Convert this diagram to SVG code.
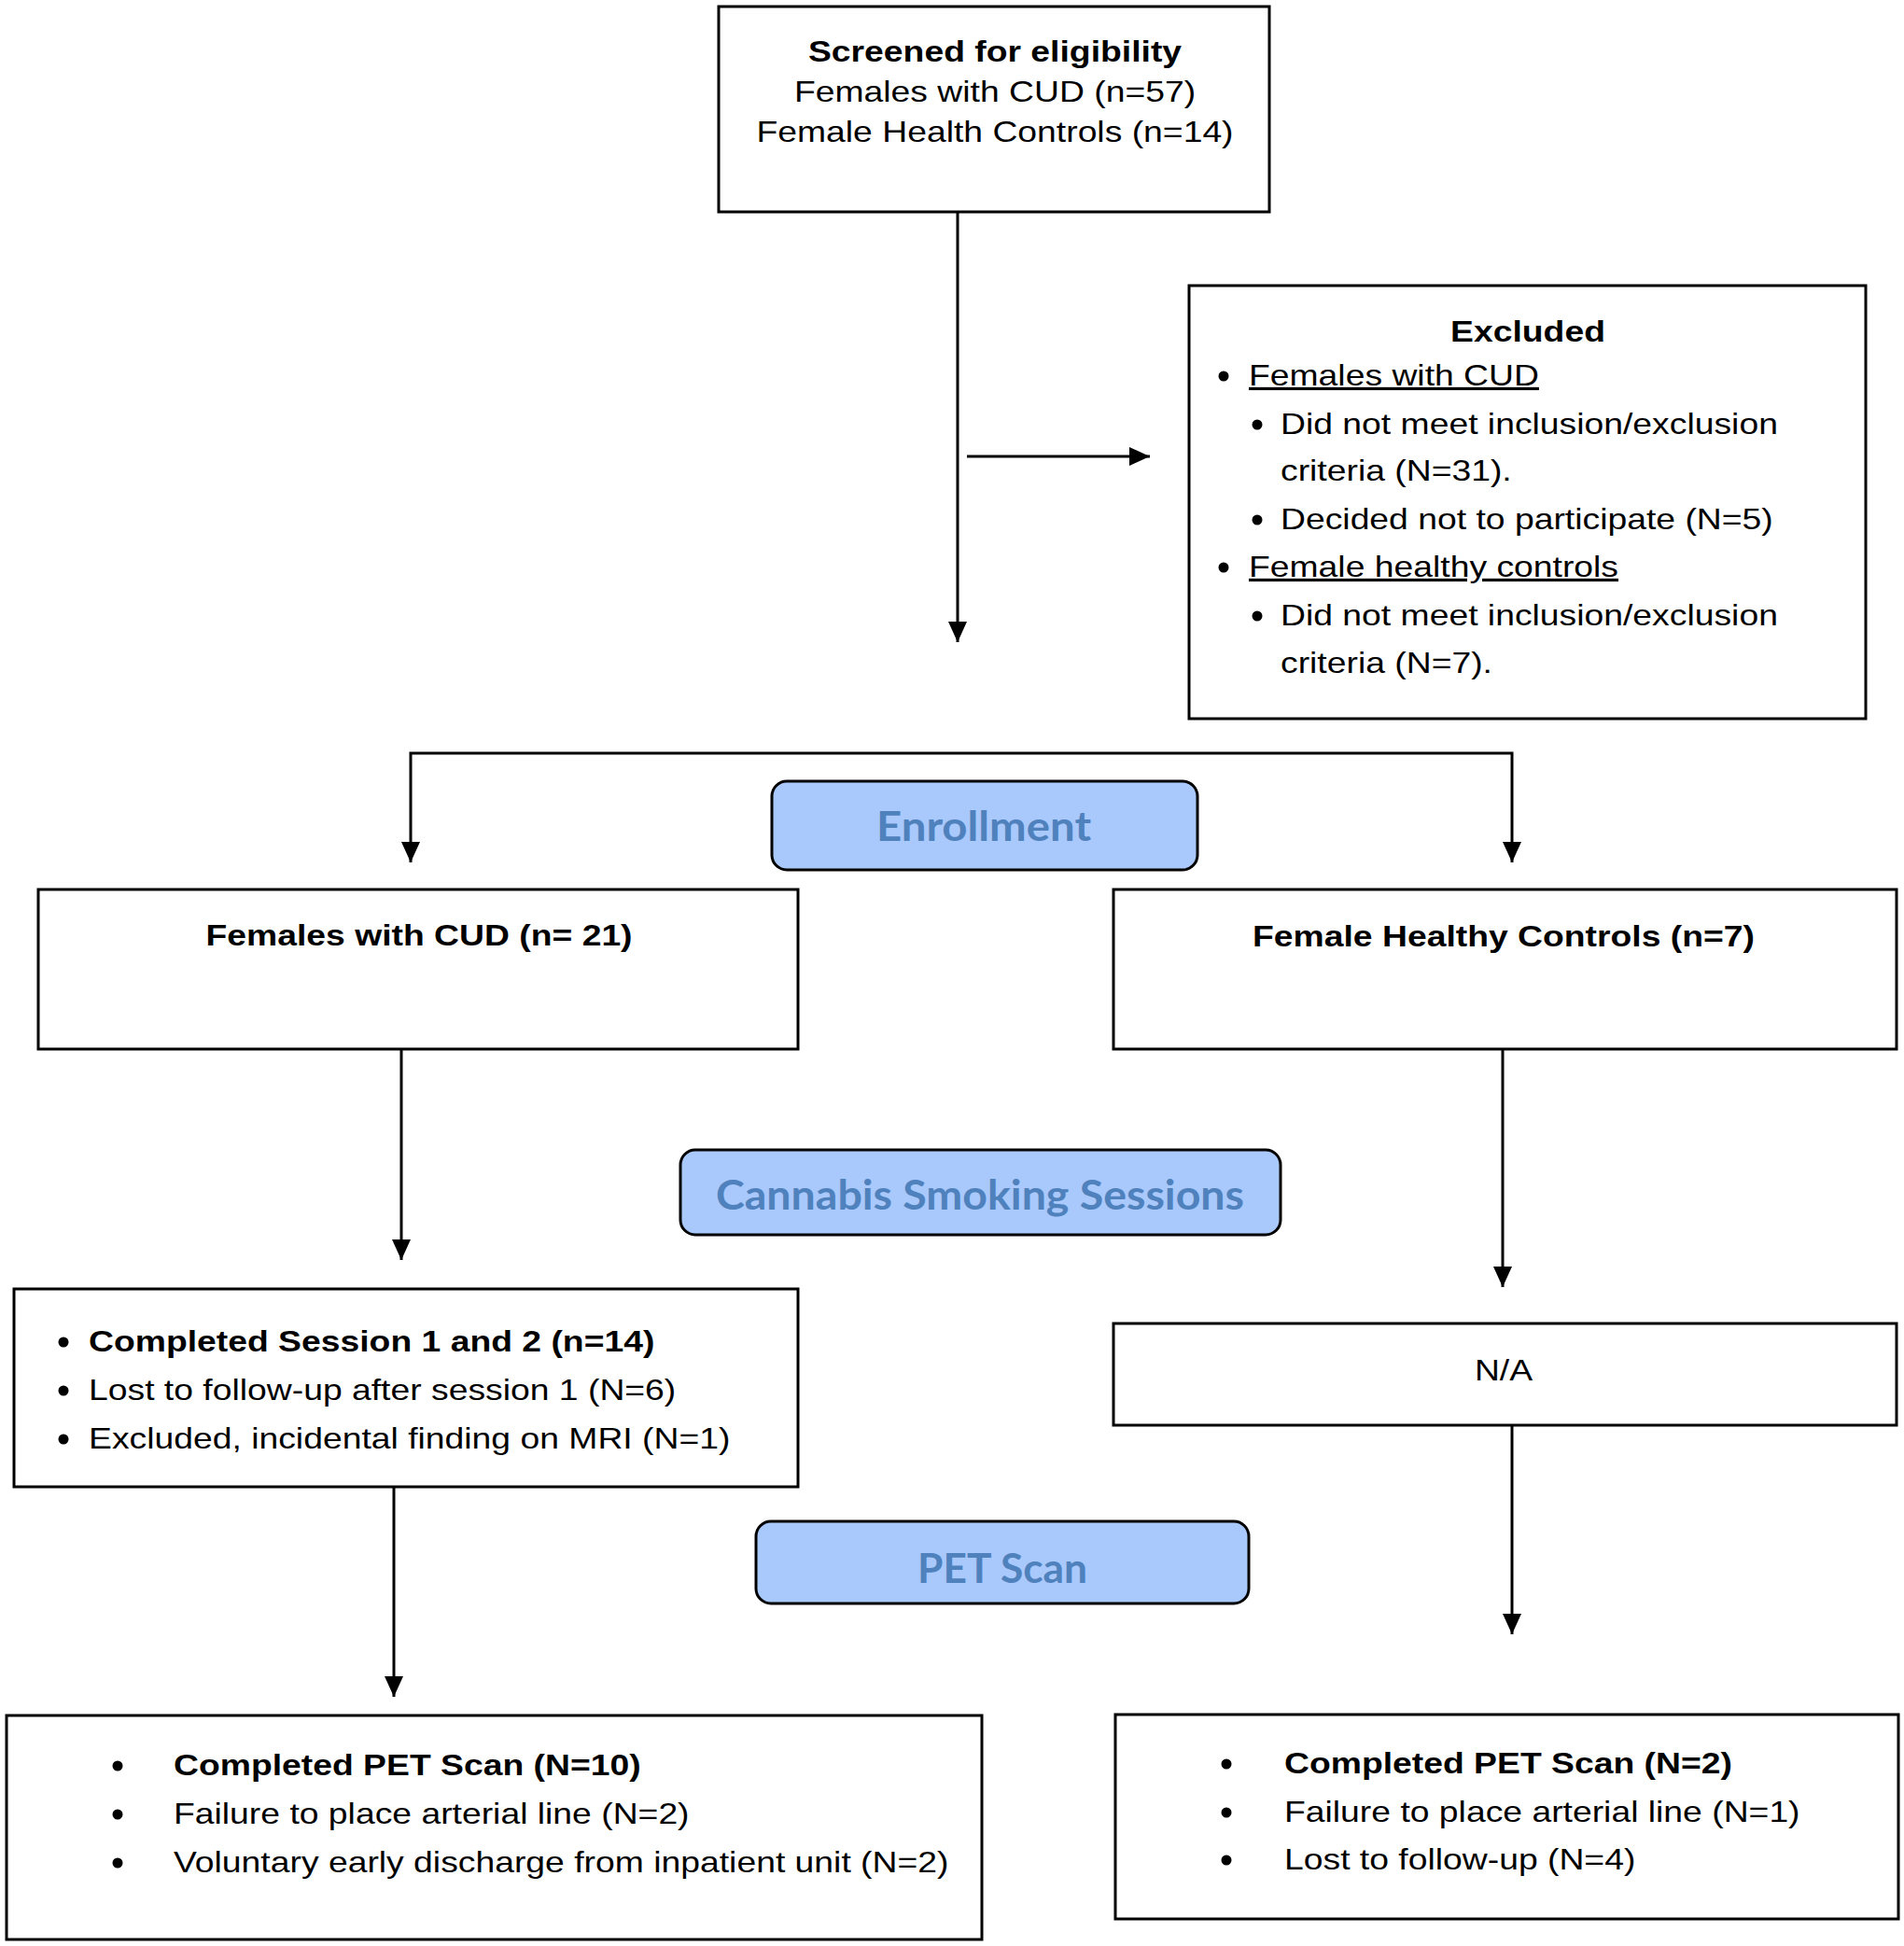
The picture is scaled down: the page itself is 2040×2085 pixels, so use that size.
<svg xmlns="http://www.w3.org/2000/svg" width="2040" height="2085" viewBox="0 0 2040 2085">
<style>
.t{font-family:"Liberation Sans",Arial,sans-serif;font-size:32px;fill:#000}
.b{font-weight:bold}
.m{text-anchor:middle}
.box{fill:#fff;stroke:#000;stroke-width:3}
.pill{fill:#a9c8fb;stroke:#000;stroke-width:3}
.pt{font-family:Lato,"Open Sans",sans-serif;font-weight:700;font-size:44px;fill:#4f81bd;text-anchor:middle}
.c{fill:none;stroke:#000;stroke-width:3;marker-end:url(#ah)}
.dot{fill:#000}
</style>
<defs>
<marker id="ah" viewBox="0 0 22 20" refX="22" refY="10" markerWidth="22" markerHeight="20" orient="auto" markerUnits="userSpaceOnUse">
<path d="M0,0 L22,10 L0,20 Z" fill="#000"/>
</marker>
</defs>
<rect width="2040" height="2085" fill="#fff"/>

<g id="connectors">
<path class="c" d="M1026,227 V688"/>
<path class="c" d="M1036,489 H1232"/>
<path class="c" d="M1030,807 H440 V924"/>
<path class="c" d="M1030,807 H1620 V924"/>
<path class="c" d="M430,1124 V1350"/>
<path class="c" d="M1610,1124 V1379"/>
<path class="c" d="M422,1593 V1818"/>
<path class="c" d="M1620,1527 V1751"/>
</g>

<g id="screened">
<rect class="box" x="770" y="7" width="590" height="220"/>
<text class="t b m" transform="translate(1066,66) scale(1.166,1)">Screened for eligibility</text>
<text class="t m" transform="translate(1066,109) scale(1.166,1)">Females with CUD (n=57)</text>
<text class="t m" transform="translate(1066,152) scale(1.166,1)">Female Health Controls (n=14)</text>
</g>

<g id="excluded">
<rect class="box" x="1274" y="306" width="725" height="464"/>
<text class="t b m" transform="translate(1637,366) scale(1.166,1)">Excluded</text>
<circle class="dot" cx="1311" cy="403" r="5.5"/>
<text class="t" text-decoration="underline" transform="translate(1338,413) scale(1.166,1)">Females with CUD</text>
<circle class="dot" cx="1347" cy="455" r="5.5"/>
<text class="t" transform="translate(1372,465) scale(1.166,1)">Did not meet inclusion/exclusion</text>
<text class="t" transform="translate(1372,515) scale(1.166,1)">criteria (N=31).</text>
<circle class="dot" cx="1347" cy="557" r="5.5"/>
<text class="t" transform="translate(1372,567) scale(1.166,1)">Decided not to participate (N=5)</text>
<circle class="dot" cx="1311" cy="608" r="5.5"/>
<text class="t" text-decoration="underline" transform="translate(1338,618) scale(1.166,1)">Female healthy controls</text>
<circle class="dot" cx="1347" cy="660" r="5.5"/>
<text class="t" transform="translate(1372,670) scale(1.166,1)">Did not meet inclusion/exclusion</text>
<text class="t" transform="translate(1372,721) scale(1.166,1)">criteria (N=7).</text>
</g>

<g id="enrollment">
<rect class="pill" x="827" y="837" width="456" height="95" rx="16" ry="16"/>
<text class="pt" x="1054" y="901" textLength="230" lengthAdjust="spacingAndGlyphs">Enrollment</text>
</g>

<g id="cud">
<rect class="box" x="41" y="953" width="814" height="171"/>
<text class="t b m" transform="translate(449,1013) scale(1.166,1)">Females with CUD (n= 21)</text>
</g>

<g id="hc">
<rect class="box" x="1193" y="953" width="839" height="171"/>
<text class="t b m" transform="translate(1611,1014) scale(1.166,1)">Female Healthy Controls (n=7)</text>
</g>

<g id="cannabis">
<rect class="pill" x="729" y="1232" width="643" height="91" rx="16" ry="16"/>
<text class="pt" x="1050" y="1296" textLength="566" lengthAdjust="spacingAndGlyphs">Cannabis Smoking Sessions</text>
</g>

<g id="sessions">
<rect class="box" x="15" y="1381" width="840" height="212"/>
<circle class="dot" cx="68" cy="1438" r="5.5"/>
<text class="t b" transform="translate(95,1448) scale(1.166,1)">Completed Session 1 and 2 (n=14)</text>
<circle class="dot" cx="68" cy="1490" r="5.5"/>
<text class="t" transform="translate(95,1500) scale(1.166,1)">Lost to follow-up after session 1 (N=6)</text>
<circle class="dot" cx="68" cy="1542" r="5.5"/>
<text class="t" transform="translate(95,1552) scale(1.166,1)">Excluded, incidental finding on MRI (N=1)</text>
</g>

<g id="na">
<rect class="box" x="1193" y="1418" width="839" height="109"/>
<text class="t m" transform="translate(1611,1479) scale(1.166,1)">N/A</text>
</g>

<g id="pet">
<rect class="pill" x="810" y="1630" width="528" height="88" rx="16" ry="16"/>
<text class="pt" x="1074" y="1696" textLength="182" lengthAdjust="spacingAndGlyphs">PET Scan</text>
</g>

<g id="pet-cud">
<rect class="box" x="7" y="1838" width="1045" height="240"/>
<circle class="dot" cx="126" cy="1892" r="5.5"/>
<text class="t b" transform="translate(186,1902) scale(1.166,1)">Completed PET Scan (N=10)</text>
<circle class="dot" cx="126" cy="1944" r="5.5"/>
<text class="t" transform="translate(186,1954) scale(1.166,1)">Failure to place arterial line (N=2)</text>
<circle class="dot" cx="126" cy="1996" r="5.5"/>
<text class="t" transform="translate(186,2006) scale(1.166,1)">Voluntary early discharge from inpatient unit (N=2)</text>
</g>

<g id="pet-hc">
<rect class="box" x="1195" y="1837" width="839" height="219"/>
<circle class="dot" cx="1314" cy="1890" r="5.5"/>
<text class="t b" transform="translate(1376,1900) scale(1.166,1)">Completed PET Scan (N=2)</text>
<circle class="dot" cx="1314" cy="1942" r="5.5"/>
<text class="t" transform="translate(1376,1952) scale(1.166,1)">Failure to place arterial line (N=1)</text>
<circle class="dot" cx="1314" cy="1993" r="5.5"/>
<text class="t" transform="translate(1376,2003) scale(1.166,1)">Lost to follow-up (N=4)</text>
</g>
</svg>
